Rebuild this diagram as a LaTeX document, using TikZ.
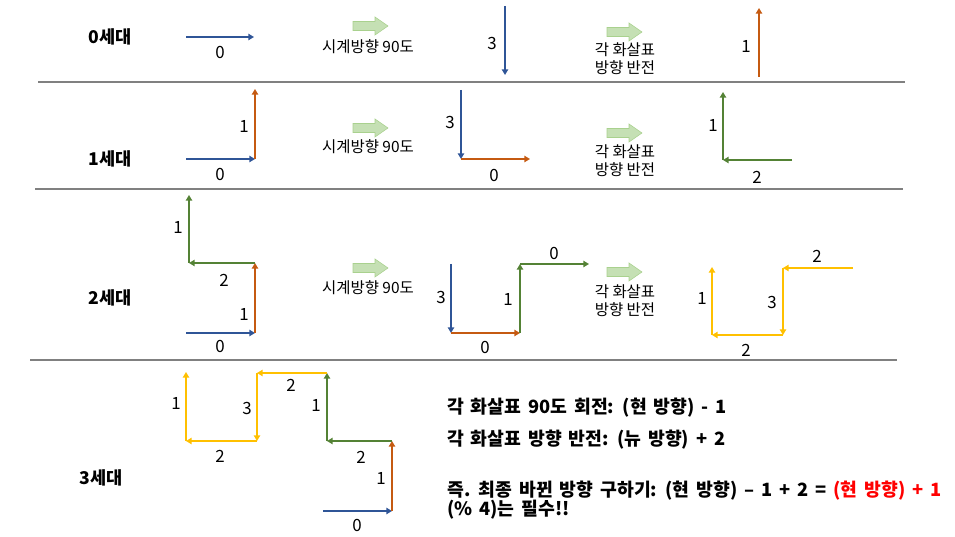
\documentclass[tikz,border=0pt]{standalone}
\usepackage{fontspec}
\setmainfont{Noto Sans CJK KR}
\newfontfamily\rulefont{Noto Sans CJK KR}[WordSpace=1.65]
\usetikzlibrary{arrows.meta, positioning}
\definecolor{vblue}{RGB}{47,85,151}
\definecolor{vorange}{RGB}{197,90,17}
\definecolor{vgreen}{RGB}{84,130,53}
\definecolor{vyellow}{RGB}{255,192,0}
\definecolor{blockfill}{RGB}{197,224,180}
\definecolor{blockline}{RGB}{169,209,142}
\definecolor{rulegray}{RGB}{128,128,128}

\begin{document}
\begin{tikzpicture}[x=0.025cm, y=-0.025cm,
  vec/.style={line width=1.3pt, -{Triangle[length=4pt, width=4.5pt]}},
  lbl/.style={font=\fontsize{12}{14}\selectfont, inner sep=0pt},
  gen/.style={font=\fontsize{12.5}{15}\selectfont\bfseries, inner sep=0pt},
  note/.style={font=\fontsize{11}{12.8}\selectfont, align=center, inner sep=0pt},
  txt/.style={font=\rulefont\fontsize{13}{15}\selectfont\bfseries, inner sep=0pt, anchor=west},
  rule/.style={rulegray, line width=0.8pt},
  blk/.style={fill=blockfill, draw=blockline, line width=0.4pt}]
  \useasboundingbox (0,0) rectangle (955,537);

  % separators
  \draw[rule] (38,82) -- (905,82);
  \draw[rule] (35,189) -- (903,189);
  \draw[rule] (30,360) -- (897,360);

  % generation names
  \node[gen] (g0) at (110,37) {0세대};
  \node[gen] (g1) at (110,159) {1세대};
  \node[gen] (g2) at (110,298) {2세대};
  \node[gen] (g3) at (101,478) {3세대};

  % block arrows and their notes
  \foreach \x/\y in {353/26, 353/128, 353/268, 607/32, 607/133, 607/272}
    \draw[blk] (\x,\y-4.5) -- ++(22,0) -- ++(0,-4.5) -- (\x+35,\y)
      -- (\x+22,\y+9) -- ++(0,-4.5) -- (\x,\y+4.5) -- cycle;
  \node[note] (cw0) at (368,47) {시계방향 90도};
  \node[note] (cw1) at (368,147) {시계방향 90도};
  \node[note] (cw2) at (368,288) {시계방향 90도};
  \node[note] (fl0) at (625,59) {각 화살표\\방향 반전};
  \node[note] (fl1) at (625,161) {각 화살표\\방향 반전};
  \node[note] (fl2) at (625,301) {각 화살표\\방향 반전};

  % 0세대
  \coordinate (a0) at (186,37);  \coordinate (a1) at (254,37);
  \coordinate (b0) at (505,6);   \coordinate (b1) at (505,75);
  \coordinate (c0) at (759,77);  \coordinate (c1) at (759,8);
  \foreach \s/\e/\c in {a0/a1/vblue, b0/b1/vblue, c0/c1/vorange}
    \draw[vec, \c] (\s) -- (\e);
  \node[lbl] (a0n) at (220,52) {0};
  \node[lbl] (b0n) at (492,43) {3};
  \node[lbl] (c0n) at (746,46) {1};

  % 1세대
  \coordinate (d0) at (186,159); \coordinate (d1) at (255,159); \coordinate (d2) at (255,89);
  \coordinate (e0) at (461,90);  \coordinate (e1) at (461,159); \coordinate (e2) at (530,159);
  \coordinate (f0) at (792,160); \coordinate (f1) at (723,160); \coordinate (f2) at (723,92);
  \foreach \s/\e/\c in {d0/d1/vblue, d1/d2/vorange, e0/e1/vblue, e1/e2/vorange,
      f1/f2/vgreen, f0/f1/vgreen}
    \draw[vec, \c] (\s) -- (\e);
  \node[lbl] (d0n) at (220,174) {0};
  \node[lbl] (d1n) at (244,126) {1};
  \node[lbl] (e0n) at (450,122) {3};
  \node[lbl] (e1n) at (494,175) {0};
  \node[lbl] (f1n) at (713,125) {1};
  \node[lbl] (f0n) at (757,177) {2};

  % 2세대
  \coordinate (h0) at (186,333); \coordinate (h1) at (255,333); \coordinate (h2) at (255,263);
  \coordinate (h3) at (189,263); \coordinate (h4) at (189,195);
  \coordinate (i0) at (451,264); \coordinate (i1) at (451,333); \coordinate (i2) at (520,333);
  \coordinate (i3) at (520,264); \coordinate (i4) at (589,264);
  \coordinate (j0) at (853,268); \coordinate (j1) at (783,268); \coordinate (j2) at (783,335);
  \coordinate (j3) at (712,335); \coordinate (j4) at (712,267);
  \foreach \s/\e/\c in {h0/h1/vblue, h1/h2/vorange, h2/h3/vgreen, h3/h4/vgreen,
      i0/i1/vblue, i1/i2/vorange, i2/i3/vgreen, i3/i4/vgreen,
      j0/j1/vyellow, j1/j2/vyellow, j2/j3/vyellow, j3/j4/vyellow}
    \draw[vec, \c] (\s) -- (\e);
  \node[lbl] (h0n) at (220,346) {0};
  \node[lbl] (h1n) at (244,314) {1};
  \node[lbl] (h2n) at (224,280) {2};
  \node[lbl] (h3n) at (178,227) {1};
  \node[lbl] (i0n) at (441,297) {3};
  \node[lbl] (i1n) at (485,347) {0};
  \node[lbl] (i2n) at (508,299) {1};
  \node[lbl] (i3n) at (554,253) {0};
  \node[lbl] (j0n) at (817,256) {2};
  \node[lbl] (j1n) at (772,302) {3};
  \node[lbl] (j2n) at (746,350) {2};
  \node[lbl] (j3n) at (702,298) {1};

  % 3세대
  \coordinate (k0) at (323,511); \coordinate (k1) at (392,511); \coordinate (k2) at (392,441);
  \coordinate (k3) at (327,441); \coordinate (k4) at (327,373); \coordinate (k5) at (257,373);
  \coordinate (k6) at (257,441); \coordinate (k7) at (186,441); \coordinate (k8) at (186,372);
  \foreach \s/\e/\c in {k0/k1/vblue, k1/k2/vorange, k2/k3/vgreen, k3/k4/vgreen,
      k4/k5/vyellow, k5/k6/vyellow, k6/k7/vyellow, k7/k8/vyellow}
    \draw[vec, \c] (\s) -- (\e);
  \node[lbl] (k0n) at (357,525) {0};
  \node[lbl] (k1n) at (381,478) {1};
  \node[lbl] (k2n) at (361,457) {2};
  \node[lbl] (k3n) at (316,405) {1};
  \node[lbl] (k4n) at (291,385) {2};
  \node[lbl] (k5n) at (247,408) {3};
  \node[lbl] (k6n) at (220,456) {2};
  \node[lbl] (k7n) at (176,403) {1};

  % rules
  \node[txt] (r1) at (447,408) {각 화살표 90도 회전: (현 방향) - 1};
  \node[txt] (r2) at (447,440) {각 화살표 방향 반전: (뉴 방향) + 2};
  \node[txt] (r3) at (447,491) {즉. 최종 바뀐 방향 구하기: (현 방향) – 1 + 2 = \textcolor{red}{(현 방향) + 1}};
  \node[txt] (r4) at (447,510) {(\% 4)는 필수!!};
\end{tikzpicture}
\end{document}
